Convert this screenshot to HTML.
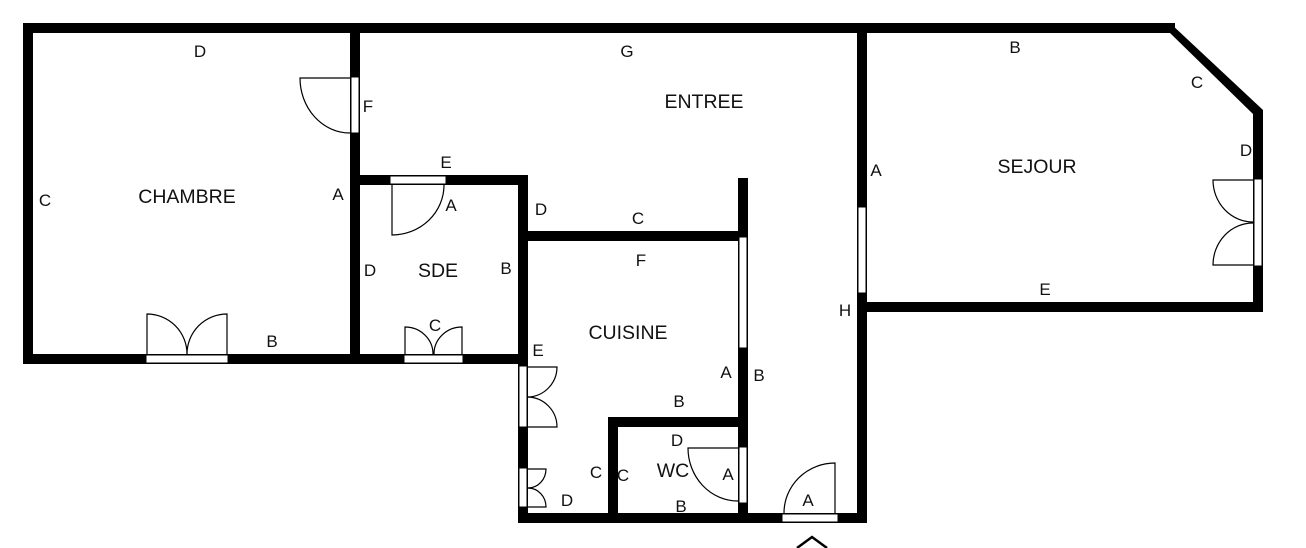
<!DOCTYPE html>
<html><head><style>
html,body{margin:0;padding:0;background:#fff;}
svg{display:block;}
text{font-family:"Liberation Sans",sans-serif;font-size:17px;fill:#111;text-anchor:middle;}
text.r{font-size:19.5px;}
</style></head><body>
<svg width="1306" height="548" viewBox="0 0 1306 548" xmlns="http://www.w3.org/2000/svg">
<g fill="#000">
<rect x="23" y="23" width="1152" height="10"/>
<polygon points="1170,23 1263,110 1263,124 1253,114 1170,33"/>
<rect x="1253" y="110" width="10" height="202"/>
<rect x="857" y="302" width="406" height="10"/>
<rect x="857" y="23" width="10" height="500"/>
<rect x="23" y="23" width="10" height="341"/>
<rect x="23" y="354" width="505" height="10"/>
<rect x="350" y="23" width="10" height="341"/>
<rect x="350" y="175" width="178" height="10"/>
<rect x="518" y="175" width="10" height="348"/>
<rect x="518" y="231" width="230" height="10"/>
<rect x="738" y="178" width="10" height="345"/>
<rect x="608" y="417" width="140" height="10"/>
<rect x="608" y="417" width="10" height="106"/>
<rect x="518" y="513" width="349" height="10"/>
</g>
<g fill="#fff" stroke="#000" stroke-width="1">
<rect x="146" y="355" width="82" height="8"/>
<rect x="351" y="77" width="8" height="56"/>
<rect x="390" y="176" width="56" height="8"/>
<rect x="404" y="355" width="59" height="8"/>
<rect x="519" y="366" width="8" height="61"/>
<rect x="519" y="468" width="8" height="39"/>
<rect x="739" y="237" width="8" height="111"/>
<rect x="739" y="447" width="8" height="56"/>
<rect x="782" y="514" width="56" height="8"/>
<rect x="858" y="207" width="8" height="86"/>
<rect x="1254" y="179" width="8" height="87"/>
</g>
<g fill="none" stroke="#000" stroke-width="1.2">
<path d="M147,355 V314 A40,40 0 0 1 187,354"/>
<path d="M227,355 V314 A40,40 0 0 0 187,354"/>
<path d="M350,78 H300 A50,55 0 0 0 350,133"/>
<path d="M392,185 V235 A52,50 0 0 0 444,185"/>
<path d="M405,354 V327 A28,27 0 0 1 433,354"/>
<path d="M462,354 V327 A28,27 0 0 0 434,354"/>
<path d="M528,367 H557 A30,30 0 0 1 528,397"/>
<path d="M528,427 H557 A30,30 0 0 0 528,397"/>
<path d="M528,469 H546 A18,19 0 0 1 528,488"/>
<path d="M528,507 H546 A18,19 0 0 0 528,488"/>
<path d="M738,448 H688 A50,53 0 0 0 738,501"/>
<path d="M835,513 V463 A51,50 0 0 0 784,513"/>
<path d="M1253,180 H1213 A40,42 0 0 0 1253,222"/>
<path d="M1253,265 H1213 A40,42 0 0 1 1253,223"/>
<path d="M797,548 L812,537 L827,548" stroke-width="2.5"/>
</g>
<text x="200" y="57">D</text>
<text x="45" y="206">C</text>
<text class="r" x="187" y="203">CHAMBRE</text>
<text x="338" y="200">A</text>
<text x="272" y="347">B</text>
<text x="368" y="112">F</text>
<text x="446" y="168">E</text>
<text x="451" y="211">A</text>
<text x="370" y="276">D</text>
<text class="r" x="438" y="277">SDE</text>
<text x="506" y="274">B</text>
<text x="435" y="331">C</text>
<text x="541" y="215">D</text>
<text x="627" y="57">G</text>
<text class="r" x="704" y="108">ENTREE</text>
<text x="638" y="224">C</text>
<text x="641" y="266">F</text>
<text class="r" x="628" y="339">CUISINE</text>
<text x="538" y="356">E</text>
<text x="726" y="378">A</text>
<text x="759" y="381">B</text>
<text x="679" y="407">B</text>
<text x="677" y="446">D</text>
<text x="596" y="478">C</text>
<text x="623" y="481">C</text>
<text class="r" x="673" y="477">WC</text>
<text x="728" y="480">A</text>
<text x="567" y="506">D</text>
<text x="681" y="512">B</text>
<text x="808" y="506">A</text>
<text x="876" y="176">A</text>
<text x="845" y="316">H</text>
<text x="1015" y="53">B</text>
<text x="1197" y="88">C</text>
<text x="1246" y="156">D</text>
<text class="r" x="1037" y="173">SEJOUR</text>
<text x="1045" y="295">E</text>
</svg>
</body></html>
